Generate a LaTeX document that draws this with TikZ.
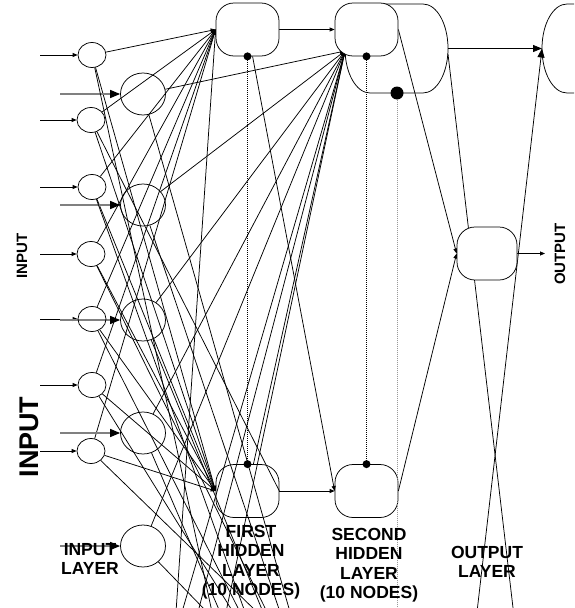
\documentclass[tikz,border=0pt]{standalone}
\usepackage{fontspec}
\setmainfont{Liberation Sans}
\usetikzlibrary{arrows.meta,shapes.geometric}
\pgfdeclarelayer{wires}
\pgfsetlayers{wires,main}
\begin{document}
\begin{tikzpicture}[x=1pt,y=-1pt,
  wire/.style={line width=0.75pt},
  feed/.style={line width=0.75pt,-{Triangle[length=5pt,width=4pt]}},
  bigfeed/.style={line width=1.4pt,draw=black!50,-{Triangle[length=10pt,width=8pt,black]}},
  outfeed/.style={line width=0.75pt,-{Triangle[length=9pt,width=7pt]}},
  smallin/.style={ellipse,draw,line width=0.75pt,minimum width=28pt,minimum height=25pt,inner sep=0pt},
  bigin/.style={ellipse,draw,line width=0.75pt,minimum width=45pt,minimum height=42pt,inner sep=0pt},
  hid/.style={draw,line width=0.75pt,rounded corners=18pt,minimum width=63pt,minimum height=53pt,inner sep=0pt},
  lab/.style={font=\bfseries\fontsize{17.5}{19.5}\selectfont,align=center,inner sep=0pt},
  sidelab/.style={font=\bfseries\fontsize{15}{15}\selectfont,inner sep=0pt,rotate=90},
  dotmark/.style={circle,fill=black,inner sep=0pt,minimum size=8pt},
  guide/.style={line width=1pt,dash pattern=on 1pt off 1pt}
]
\useasboundingbox (0,0) rectangle (574,608);
\clip (0,0) rectangle (574,608);

% input layer: small and large units
\node[smallin] (s1) at (92,55) {};
\node[smallin] (s2) at (91,120) {};
\node[smallin] (s3) at (92,187) {};
\node[smallin] (s4) at (91,254) {};
\node[smallin] (s5) at (92,319) {};
\node[smallin] (s6) at (92,385) {};
\node[smallin] (s7) at (91,451) {};
\node[bigin] (b1) at (143,94) {};
\node[bigin] (b2) at (143,205) {};
\node[bigin] (b3) at (143,320) {};
\node[bigin] (b4) at (143,433) {};
\node[bigin] (b5) at (143,546) {};

% first hidden layer
\node[hid,fill=white] (h1t) at (247.5,29.5) {};
\node[hid] (h1b) at (247.5,491) {};

% second hidden layer: wide unit behind the top node
\draw[line width=0.75pt] (370,4) -- (423,4)
  arc[start angle=90,end angle=-90,x radius=25pt,y radius=44.5pt] -- (370,93)
  arc[start angle=-90,end angle=-270,x radius=25pt,y radius=44.5pt] -- cycle;
\coordinate (h2w) at (345,51);
\coordinate (h2e) at (448,48.5);
\coordinate (h2se) at (448,54);
\node[hid,fill=white] (h2t) at (366.5,29.5) {};
\node[hid] (h2b) at (366.5,491) {};

% output layer
\draw[line width=0.75pt] (620,4) -- (567,4)
  arc[start angle=90,end angle=270,x radius=25pt,y radius=44.5pt] -- (620,93);
\coordinate (otw) at (542,48.5);
\node[hid,fill=white,minimum width=60pt] (om) at (487,253.5) {};

% external inputs
\foreach \i/\y in {1/55,2/120,3/187,4/254,5/319,6/385,7/451}
  \coordinate (si\i) at (40,\y);
\foreach \j/\y in {1/94,2/205,3/320,4/433,5/546}
  \coordinate (bi\j) at (60,\y);

% points where wires leave the sheet
\foreach \n/\x in {1/212,2/245,3/267,4/240,5/233,6/257,7/290,8/280,9/263,10/220,11/207,
                   12/182,13/198,14/226,15/176,16/513.5,17/477}
  \coordinate (e\n) at (\x,612);
\coordinate (outend) at (545,253.5);

\begin{pgfonlayer}{wires}
\foreach \i in {1,...,7} {
  \draw[feed] (si\i) -- (s\i.west);
  \draw[feed] (s\i) -- (h1t.west);
  \draw[feed] (s\i) -- (h1b.west);
}
\foreach \j in {1,...,5} {
  \draw[bigfeed] (bi\j) -- (b\j.west);
  \draw[feed] (b\j) -- (h2w);
}
% wires running on to units further down
\draw[wire] (s1) -- (e1);
\draw[wire] (s2) -- (h1b.east);
\draw[wire] (s3) -- (e2);
\draw[wire] (s4) -- (e3);
\draw[wire] (s5) -- (e4);
\draw[wire] (s6) -- (e5);
\draw[wire] (s7) -- (e6);
\draw[wire] (b1) -- (e7);
\draw[wire] (b2) -- (e8);
\draw[wire] (b3) -- (e9);
\draw[wire] (b4) -- (e10);
\draw[wire] (b5) -- (e11);
\draw[feed] (e12) -- (h2w);
\draw[feed] (e13) -- (h2w);
\draw[feed] (e14) -- (h2w);
\draw[feed] (e15) -- (h1t.west);
% hidden to hidden
\draw[feed] (h1t.east) -- (h2t.west);
\draw[feed] (h1t) -- (h2b.west);
\draw[feed] (h1b.east) -- (h2b.west);
\draw[feed] (h1b) -- (h2w);
% second hidden to output
\draw[outfeed] (h2e) -- (otw);
\draw[feed] (h2t.east) -- (om.west);
\draw[feed] (h2b.east) -- (om.west);
\draw[wire] (h2se) -- (e16);
\draw[outfeed] (e17) -- (otw);
\draw[feed] (om.east) -- (outend);
\end{pgfonlayer}

% dotted guides standing for the units not drawn
\draw[guide] (h1t.south) -- (h1b.north);
\draw[guide] (h2t.south) -- (h2b.north);
\node[dotmark] at (h1t.south) {};
\node[dotmark] at (h1b.north) {};
\node[dotmark] at (h2t.south) {};
\node[dotmark] at (h2b.north) {};
\node[circle,fill=black,inner sep=0pt,minimum size=13pt] (bigdot) at (397,93) {};
\coordinate (bigdotend) at (397,612);
\draw[guide,draw=black!40] (bigdot) -- (bigdotend);

% labels
\node[sidelab] (inlab) at (22,256) {INPUT};
\node[sidelab,font=\bfseries\fontsize{27}{27}\selectfont] (inlabbig) at (29,437) {INPUT};
\node[sidelab] (outlab) at (560,254) {OUTPUT};
\node[lab] (l1) at (90,559) {INPUT\\LAYER};
\node[lab] (l2) at (251,562) {FIRST\\HIDDEN\\LAYER\\(10 NODES)};
\node[lab] (l3) at (369,565) {SECOND\\HIDDEN\\LAYER\\(10 NODES)};
\node[lab] (l4) at (487,562) {OUTPUT\\LAYER};
\end{tikzpicture}
\end{document}
